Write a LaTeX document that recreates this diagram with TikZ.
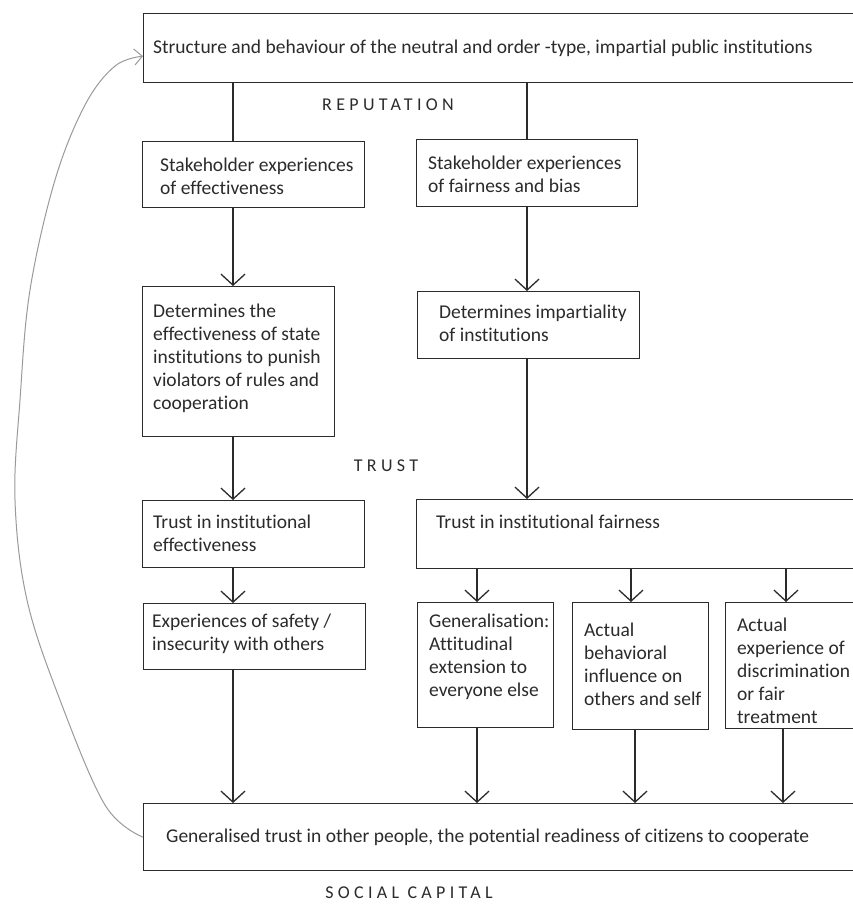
\documentclass[tikz,border=0pt]{standalone}
\usepackage{fontspec}
\setmainfont{Carlito}[Ligatures=NoCommon]
\usetikzlibrary{arrows.meta}
\definecolor{ink}{HTML}{2B2B2B}
\definecolor{loopgray}{HTML}{9A9A9A}
\begin{document}
\begin{tikzpicture}[x=1pt,y=-1pt,
  frame/.style={draw=ink, line width=1.3pt, anchor=north west, inner sep=0pt},
  txt/.style={anchor=west, align=left, inner sep=0pt, text=ink,
    font=\fontsize{19.5}{23}\selectfont},
  tag/.style={inner sep=0pt, text=ink,
    font=\fontsize{18}{21}\selectfont\addfontfeature{LetterSpace=24}},
  link/.style={draw=ink, line width=1.3pt},
  flow/.style={link, -{Straight Barb[length=11pt,width=24pt,line width=1.3pt]}},
  feedback/.style={draw=loopgray, line width=1pt,
    -{Straight Barb[length=8pt,width=16pt,line width=1pt]}}
]
\useasboundingbox (0,0) rectangle (853,908);
\fill[white] (0,0) rectangle (853,908);
\clip (0,0) rectangle (853,908);

% column positions of the vertical connectors
\coordinate (cL) at (233,0);
\coordinate (cR) at (527,0);
\coordinate (c1) at (477,0);
\coordinate (c2) at (631,0);
\coordinate (c3) at (786,0);
\coordinate (d2) at (635,0);
\coordinate (d3) at (783,0);

% frames
\node[frame, minimum width=760, minimum height=69]  (inst) at (143,13)  {};
\node[frame, minimum width=222, minimum height=66]  (se)   at (142,141) {};
\node[frame, minimum width=221, minimum height=67]  (sf)   at (416,139) {};
\node[frame, minimum width=192, minimum height=150] (de)   at (142,286) {};
\node[frame, minimum width=222, minimum height=67]  (di)   at (417,291) {};
\node[frame, minimum width=222, minimum height=67]  (te)   at (142,500) {};
\node[frame, minimum width=480, minimum height=69]  (tf)   at (416,499) {};
\node[frame, minimum width=222, minimum height=66]  (es)   at (143,603) {};
\node[frame, minimum width=136, minimum height=125] (gen)  at (417,602) {};
\node[frame, minimum width=136, minimum height=127] (act)  at (572,602) {};
\node[frame, minimum width=200, minimum height=126] (dis)  at (725,602) {};
\node[frame, minimum width=760, minimum height=67]  (gt)   at (143,803) {};

% texts in the frames
\node[txt] (inst-t) at (153,48)
  {Structure and behaviour of the neutral and order -type, impartial public institutions};
\node[txt] (se-t)  at (160,176.5) {Stakeholder experiences\\of effectiveness};
\node[txt] (sf-t)  at (428,174)   {Stakeholder experiences\\of fairness and bias};
\node[txt] (de-t)  at (153,358.5) {Determines the\\effectiveness of state\\institutions to punish\\violators of rules and\\cooperation};
\node[txt] (di-t)  at (439,323)   {Determines impartiality\\of institutions};
\node[txt] (te-t)  at (153,533.5) {Trust in institutional\\effectiveness};
\node[txt] (tf-t)  at (436,522)   {Trust in institutional fairness};
\node[txt] (es-t)  at (152,633.5) {Experiences of safety /\\insecurity with others};
\node[txt] (gen-t) at (429,656.5) {Generalisation:\\Attitudinal\\extension to\\everyone else};
\node[txt] (act-t) at (584,664)   {Actual\\behavioral\\influence on\\others and self};
\node[txt] (dis-t) at (737,670.5) {Actual\\experience of\\discrimination\\or fair\\treatment};
\node[txt] (gt-t)  at (166,837)
  {Generalised trust in other people, the potential readiness of citizens to cooperate};

% level labels
\node[tag] (rep)   at (388,105) {REPUTATION};
\node[tag] (trust) at (386,466) {TRUST};
\node[tag] (soc)   at (409,893) {SOCIAL CAPITAL};

% connectors
\draw[link] (inst.south -| cL) -- (se.north -| cL);
\draw[link] (inst.south -| cR) -- (sf.north -| cR);
\draw[flow] (se.south -| cL) -- (de.north -| cL);
\draw[flow] (de.south -| cL) -- (te.north -| cL);
\draw[flow] (te.south -| cL) -- (es.north -| cL);
\draw[flow] (es.south -| cL) -- (gt.north -| cL);
\draw[flow] (sf.south -| cR) -- (di.north -| cR);
\draw[flow] (di.south -| cR) -- (tf.north -| cR);
\draw[flow] (tf.south -| c1) -- (gen.north -| c1);
\draw[flow] (tf.south -| c2) -- (act.north -| c2);
\draw[flow] (tf.south -| c3) -- (dis.north -| c3);
\draw[flow] (gen.south -| c1) -- (gt.north -| c1);
\draw[flow] (act.south -| d2) -- (gt.north -| d2);
\draw[flow] (dis.south -| d3) -- (gt.north -| d3);

% feedback loop from social capital back to the institutions
\draw[feedback] plot[smooth, tension=0.6] coordinates
  {(gt.west) (105,805) (60,700) (27,600) (15,500) (20,400) (30,290) (55,180) (85,105) (115,66) ([yshift=-8pt]inst.west)};
\end{tikzpicture}
\end{document}
